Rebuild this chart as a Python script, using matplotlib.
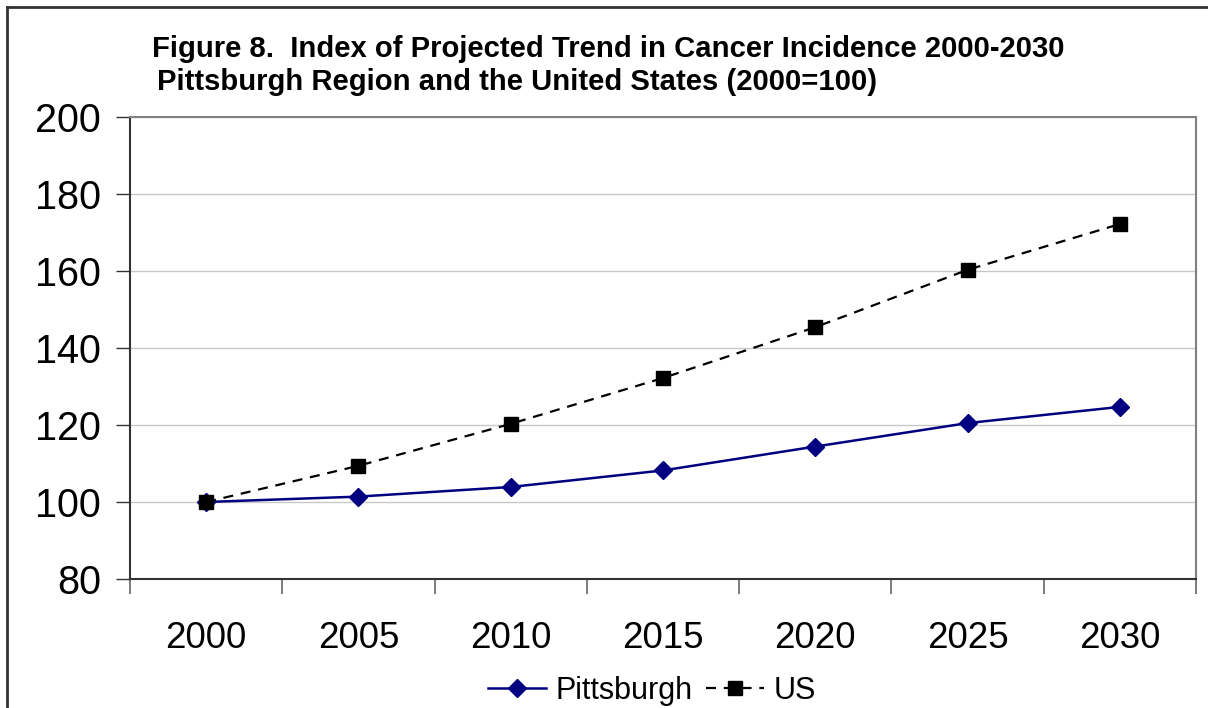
import matplotlib
matplotlib.use("Agg")
import matplotlib.pyplot as plt
from matplotlib.lines import Line2D

plt.rcParams['font.family'] = ['Liberation Sans', 'DejaVu Sans']

years = ["2000", "2005", "2010", "2015", "2020", "2025", "2030"]
pittsburgh = [100.0, 101.4, 103.9, 108.2, 114.4, 120.5, 124.7]
us = [100.0, 109.4, 120.3, 132.2, 145.4, 160.3, 172.2]
yticks = [80, 100, 120, 140, 160, 180, 200]

title1 = "Figure 8.  Index of Projected Trend in Cancer Incidence 2000-2030"
title2 = "Pittsburgh Region and the United States (2000=100)"

W, H = 1208, 708
fig = plt.figure(figsize=(W / 100, H / 100), dpi=100)
ax = fig.add_axes([130 / W, 1 - 579 / H, (1196 - 130) / W, (579 - 117) / H])

x = list(range(len(years)))
ax.plot(x, pittsburgh, color="#000080", lw=1.8, marker="D", ms=9,
        mfc="#000080", mec="#000080", label="Pittsburgh", zorder=3)
ax.plot(x, us, color="black", lw=1.6, ls=(0, (4.5, 3.5)), marker="s", ms=9.5,
        mfc="black", mec="black", label="US", zorder=4)

ax.set_xlim(-0.5, len(years) - 0.5)
ax.set_ylim(80, 200)
ax.set_yticks(yticks)
ax.set_yticklabels([str(v) for v in yticks], fontsize=28.5)
ax.set_xticks(x)
ax.set_xticklabels(years, fontsize=26.5)
ax.tick_params(axis="x", length=0, pad=30)
ax.tick_params(axis="y", length=10, width=1, color="#333333", pad=11)
# category boundary ticks
ax.set_xticks([i - 0.5 for i in range(len(years) + 1)], minor=True)
ax.tick_params(axis="x", which="minor", length=11, width=1.2, color="#666666")

ax.grid(axis="y", color="#c8c8c8", lw=1)
ax.set_axisbelow(True)
for s in ["top", "right"]:
    ax.spines[s].set_color("#808080")
    ax.spines[s].set_linewidth(1.5)
for s in ["left", "bottom"]:
    ax.spines[s].set_color("#333333")
    ax.spines[s].set_linewidth(1.5)

leg = fig.legend(loc="center", bbox_to_anchor=(652 / W, 1 - 691 / H), ncol=2,
                 frameon=False, fontsize=22, handlelength=1.9, handletextpad=0.3,
                 columnspacing=0.45, borderaxespad=0)

fig.text(152 / W, 1 - 57 / H, title1, fontsize=21.1, fontweight="bold",
         ha="left", va="baseline")
fig.text(157 / W, 1 - 90 / H, title2, fontsize=21.1, fontweight="bold",
         ha="left", va="baseline")

# outer frame (left and top edges)
fig.add_artist(Line2D([7 / W, 7 / W], [0, 1 - 7 / H], color="#333333", lw=2,
                      transform=fig.transFigure))
fig.add_artist(Line2D([7 / W, 1], [1 - 7 / H, 1 - 7 / H], color="#333333", lw=2,
                      transform=fig.transFigure))

fig.savefig("out.png", dpi=100)
